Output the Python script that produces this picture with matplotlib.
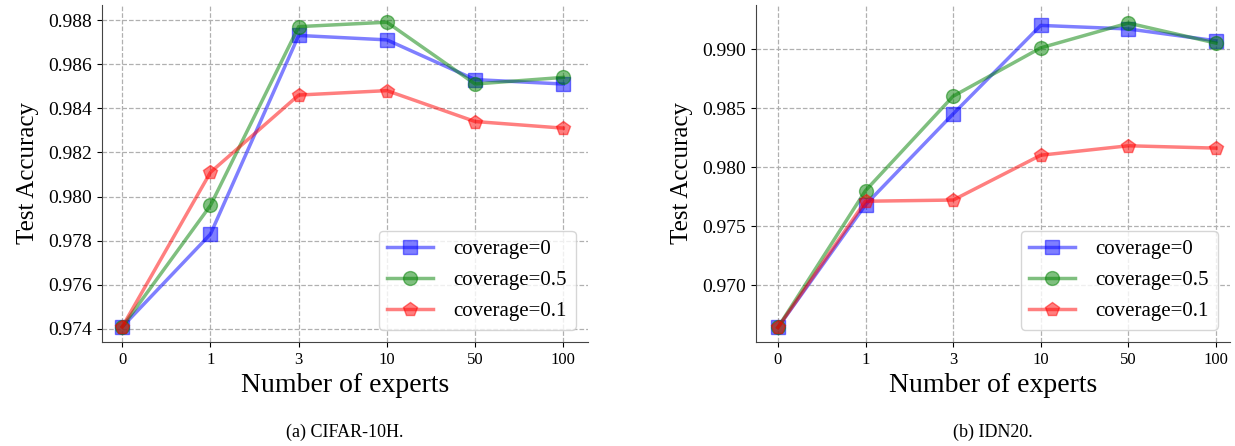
import numpy as np
import matplotlib.pyplot as plt

plt.rcParams['font.family'] = ['Liberation Serif', 'DejaVu Serif']
plt.rcParams['mathtext.fontset'] = 'stix'

experts = ['0', '1', '3', '10', '50', '100']

# CIFAR-10H
cifar_cov0 = [0.9741, 0.9783, 0.9873, 0.9871, 0.9853, 0.9851]
cifar_cov05 = [0.9741, 0.9796, 0.9877, 0.9879, 0.9851, 0.9854]
cifar_cov01 = [0.9741, 0.9811, 0.9846, 0.9848, 0.9834, 0.9831]

# IDN20
idn_cov0 = [0.9664, 0.9768, 0.9845, 0.9920, 0.9917, 0.9907]
idn_cov05 = [0.9664, 0.9780, 0.9860, 0.9901, 0.9922, 0.9905]
idn_cov01 = [0.9664, 0.9771, 0.9772, 0.9810, 0.9818, 0.9816]

fig = plt.figure(figsize=(12.35, 4.46), dpi=100)
ax1 = fig.add_axes([102/1235, 104/446, 486/1235, 337/446])
ax2 = fig.add_axes([756/1235, 104/446, 474/1235, 337/446])

x = np.arange(len(experts))

def draw(ax, c0, c05, c01, yticks, fmt, ylim, xlim, caption):
    ax.plot(x, c0, color='blue', marker='s', markersize=10, linewidth=2.5, alpha=0.5, label='coverage=0')
    ax.plot(x, c05, color='green', marker='o', markersize=10, linewidth=2.5, alpha=0.5, label='coverage=0.5')
    ax.plot(x, c01, color='red', marker='p', markersize=10, linewidth=2.5, alpha=0.5, label='coverage=0.1')
    ax.set_xticks(x)
    ax.set_xticklabels(experts, fontsize=12)
    ax.set_yticks(yticks)
    ax.set_yticklabels([fmt.format(v) for v in yticks], fontsize=14)
    ax.set_ylim(*ylim)
    ax.set_xlim(*xlim)
    ax.grid(True, linestyle='--', color='#b0b0b0', linewidth=0.9)
    ax.spines['top'].set_visible(False)
    ax.spines['right'].set_visible(False)
    ax.spines['left'].set_color('#444444')
    ax.spines['bottom'].set_color('#444444')
    ax.set_xlabel('Number of experts', fontsize=20)
    ax.set_ylabel('Test Accuracy', fontsize=18, labelpad=7)
    ax.legend(loc='lower right', fontsize=15, borderaxespad=0.6,
              handlelength=2.2, handletextpad=1.0, labelspacing=0.55)
    ax.text(0.5, -0.267, caption, transform=ax.transAxes, ha='center', va='center', fontsize=13)

draw(ax1, cifar_cov0, cifar_cov05, cifar_cov01,
     [0.974, 0.976, 0.978, 0.980, 0.982, 0.984, 0.986, 0.988], '{:.3f}',
     (0.97341, 0.98868), (-0.23, 5.28), '(a) CIFAR-10H.')
draw(ax2, idn_cov0, idn_cov05, idn_cov01,
     [0.970, 0.975, 0.980, 0.985, 0.990], '{:.3f}',
     (0.96517, 0.99373), (-0.25, 5.16), '(b) IDN20.')

fig.savefig('out.png', dpi=100)
